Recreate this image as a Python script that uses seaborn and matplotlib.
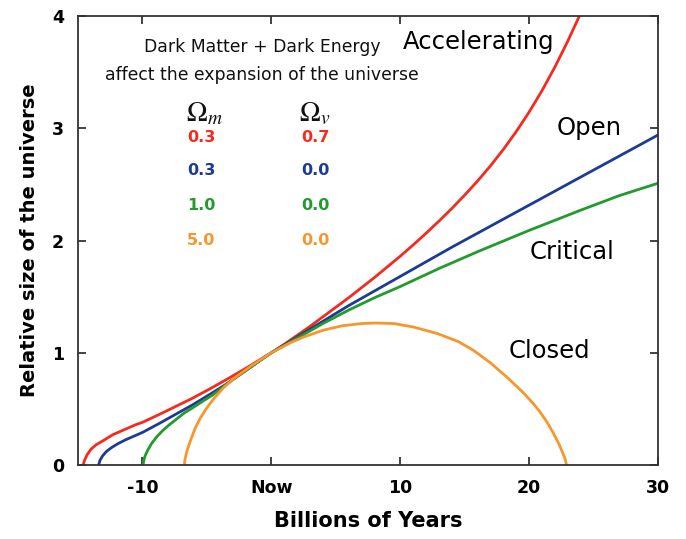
import matplotlib
matplotlib.use("Agg")
import matplotlib.pyplot as plt
import seaborn as sns
import pandas as pd

# ---- data ----
accel_x = [-14.6, -14.5, -14.3, -14.0, -13.6, -13.0, -12.3, -11.5, -10.5, -10.0, -8.7, -7.45, -6.2,
           -4.9, -3.5, -2.0, -1.0, 0, 1, 2, 3, 4, 5, 6, 7, 8, 9, 10, 11, 12, 13, 14, 15, 16, 17,
           18, 19, 20, 21, 22, 23, 23.9]
accel_y = [0, 0.04, 0.09, 0.14, 0.18, 0.22, 0.27, 0.31, 0.36, 0.38, 0.45, 0.52, 0.59,
           0.67, 0.76, 0.86, 0.93, 1.0, 1.075, 1.155, 1.235, 1.32, 1.405, 1.49, 1.58, 1.67, 1.765,
           1.86, 1.96, 2.064, 2.172, 2.285, 2.404, 2.53, 2.665, 2.811, 2.97, 3.144, 3.335, 3.545,
           3.776, 4.0]

open_x = [-13.4, -13.3, -13.1, -12.8, -12.4, -11.9, -11.3, -10.0, -8.7, -7.45, -6.2, -4.9, -3.5,
          -2.0, -1.0, 0, 2, 4, 6, 8, 10, 12, 14, 16, 18, 20, 22, 24, 26, 28, 30]
open_y = [0, 0.04, 0.08, 0.12, 0.155, 0.19, 0.225, 0.29, 0.37, 0.45, 0.53, 0.62, 0.72,
          0.84, 0.92, 1.0, 1.14, 1.28, 1.42, 1.55, 1.68, 1.81, 1.94, 2.065, 2.19, 2.315, 2.44,
          2.565, 2.69, 2.815, 2.94]

crit_x = [-9.95, -9.9, -9.8, -9.6, -9.3, -8.9, -8.4, -7.9, -7.45, -6.8, -6.1, -5.3, -4.6, -3.8,
          -3.0, -1.5, 0, 2, 4, 6, 8, 10, 13, 16, 20, 24, 27, 30]
crit_y = [0, 0.04, 0.08, 0.13, 0.19, 0.25, 0.31, 0.36, 0.40, 0.46, 0.51, 0.57, 0.62, 0.69,
          0.76, 0.88, 1.0, 1.13, 1.26, 1.38, 1.49, 1.59, 1.75, 1.90, 2.09, 2.27, 2.40, 2.51]

closed_x = [-6.75, -6.7, -6.6, -6.45, -6.2, -5.9, -5.5, -5.0, -4.4, -3.7, -2.8, -1.6, -0.8, 0,
            1.5, 2.5, 4, 5.5, 7, 8.1, 9.5, 11, 12.9, 14.5, 15.7, 17, 18.3, 19.5, 20.3, 20.8,
            21.4, 21.9, 22.3, 22.6, 22.8, 22.9]
closed_y = [0, 0.05, 0.10, 0.16, 0.24, 0.33, 0.42, 0.51, 0.60, 0.69, 0.78, 0.88, 0.94, 1.0,
            1.09, 1.14, 1.20, 1.24, 1.26, 1.265, 1.26, 1.23, 1.17, 1.10, 1.02, 0.91, 0.78, 0.65,
            0.55, 0.48, 0.38, 0.28, 0.19, 0.11, 0.05, 0]

curve_names = ["Accelerating", "Open", "Critical", "Closed"]
curve_colors = ["#f52a1f", "#1c3c94", "#229a2e", "#f7962d"]
omega_m = ["0.3", "0.3", "1.0", "5.0"]
omega_v = ["0.7", "0.0", "0.0", "0.0"]

x_ticks = [-10, 0, 10, 20, 30]
x_ticklabels = ["-10", "Now", "10", "20", "30"]
y_ticks = [0, 1, 2, 3, 4]

# ---- build frame ----
frames = []
for name, xs, ys in zip(curve_names,
                        [accel_x, open_x, crit_x, closed_x],
                        [accel_y, open_y, crit_y, closed_y]):
    frames.append(pd.DataFrame({"t": xs, "a": ys, "model": name}))
df = pd.concat(frames, ignore_index=True)

sns.set_theme(style="ticks")
plt.rcParams["font.family"] = ["DejaVu Sans"]
plt.rcParams["mathtext.fontset"] = "stix"

fig = plt.figure(figsize=(6.86, 5.39), dpi=100)
ax = fig.add_axes([78 / 686, 1 - 465 / 539, 580 / 686, 449 / 539])

for name, col in zip(curve_names, curve_colors):
    sub = df[df["model"] == name]
    sns.lineplot(data=sub, x="t", y="a", color=col, linewidth=2.0, sort=False,
                 estimator=None, ax=ax, legend=False)

ax.set_xlim(-15, 30)
ax.set_ylim(0, 4)
ax.set_xticks(x_ticks)
ax.set_xticklabels(x_ticklabels)
ax.set_yticks(y_ticks)
ax.tick_params(direction="in", length=6, width=1.2, top=True, right=True,
               labelsize=12.5, colors="#222222", pad=10)
for lab in ax.get_xticklabels() + ax.get_yticklabels():
    lab.set_fontweight("bold")
    lab.set_color("black")
for sp in ax.spines.values():
    sp.set_linewidth(1.3)
    sp.set_color("#333333")

ax.set_xlabel("Billions of Years", fontsize=15, fontweight="bold", labelpad=10, color="black")
ax.set_ylabel("Relative size of the universe", fontsize=14, fontweight="bold", labelpad=9,
              color="black")

# annotations
ax.text(-0.7, 3.72, "Dark Matter + Dark Energy", ha="center", va="center", fontsize=12.4,
        color="#111111")
ax.text(-0.7, 3.47, "affect the expansion of the universe", ha="center", va="center",
        fontsize=12.4, color="#111111")
ax.text(-5.2, 3.13, r"$\Omega_{\mathbf{\mathit{m}}}$", ha="center", va="center", fontsize=20,
        color="#111111")
ax.text(3.4, 3.13, r"$\Omega_{\mathbf{\mathit{v}}}$", ha="center", va="center", fontsize=20,
        color="#111111")

row_y = [2.92, 2.62, 2.315, 2.00]
for om, ov, col, yy in zip(omega_m, omega_v, curve_colors, row_y):
    ax.text(-5.43, yy, om, color=col, ha="center", va="center", fontsize=11.5, fontweight="bold")
    ax.text(3.41, yy, ov, color=col, ha="center", va="center", fontsize=11.5, fontweight="bold")

label_pos = [(16.1, 3.77), (24.65, 3.0), (23.3, 1.90), (21.55, 1.015)]
for name, (lx, ly) in zip(curve_names, label_pos):
    ax.text(lx, ly, name, ha="center", va="center", fontsize=17.5, color="black")

fig.savefig("out.png", dpi=100, facecolor="white")
